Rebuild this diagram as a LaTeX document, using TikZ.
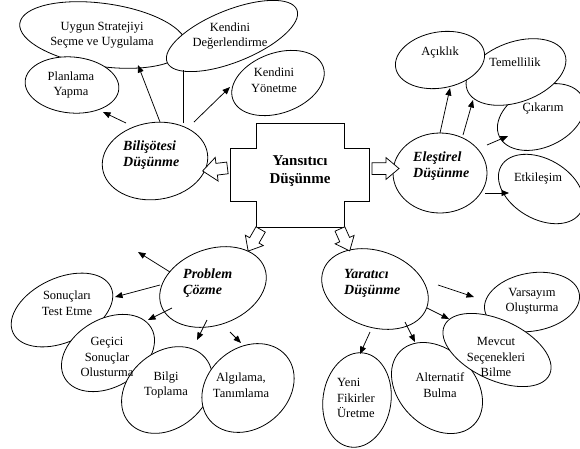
\documentclass[tikz,border=0pt]{standalone}
\usepackage{fontspec}
\setmainfont{Liberation Serif}
\usetikzlibrary{shapes.geometric,shapes.arrows,arrows.meta}
\begin{document}
\begin{tikzpicture}[x=1pt,y=-1pt,
  ell/.style={ellipse, draw, fill=white, line width=0.8pt, inner sep=0pt},
  txt/.style={font=\fontsize{12.5}{15.5}\selectfont, align=center, inner sep=0pt},
  lefttxt/.style={font=\fontsize{12.5}{15.5}\selectfont, align=left, inner sep=0pt, anchor=west},
  head/.style={font=\fontsize{14}{16}\selectfont\bfseries\itshape, align=left, inner sep=0pt, anchor=west},
  title/.style={font=\fontsize{15}{18}\selectfont\bfseries, align=center, inner sep=0pt},
  arr/.style={line width=0.75pt, -{Triangle[length=7.5pt,width=6pt]}},
  plain/.style={line width=0.75pt},
  hollow/.style={single arrow, draw, fill=white, line width=0.75pt, inner sep=0pt,
    single arrow head extend=5pt, single arrow head indent=0pt, single arrow tip angle=80}]
\useasboundingbox (0,0) rectangle (580,448);

% ---- Bilisotesi group
\node[ell, minimum width=168pt, minimum height=63pt, rotate=-8] (uyg) at (103,35) {};
\node[ell, minimum width=140pt, minimum height=52pt, rotate=22] (kd) at (232,36) {};
\node[ell, minimum width=94pt, minimum height=56pt, rotate=-5] (pla) at (72,85) {};
\node[ell, minimum width=96pt, minimum height=60pt, rotate=20] (ky) at (278,83) {};
\node[ell, minimum width=106pt, minimum height=77pt, rotate=8] (bil) at (155,161) {};

% ---- central box
\node[title] (ref) at (300,171) {Yansıtıcı\\Düşünme};
\draw[line width=0.8pt] (256,123) -- (344,123) -- (344,148) -- (369,148) -- (369,201)
  -- (344,201) -- (344,227) -- (256,227) -- (256,201) -- (230,201) -- (230,148)
  -- (256,148) -- cycle;

% ---- Elestirel group
\node[ell, minimum width=92pt, minimum height=60pt, rotate=25] (cik) at (541,117) {};
\node[ell, minimum width=104pt, minimum height=60pt, rotate=20] (tem) at (516,72) {};
\node[ell, minimum width=90pt, minimum height=56pt, rotate=10] (acik) at (440,60) {};
\node[ell, minimum width=92pt, minimum height=60pt, rotate=-30] (etk) at (541,189) {};
\node[ell, minimum width=94pt, minimum height=80pt] (ele) at (440,173) {};

% ---- Problem group
\node[ell, minimum width=108pt, minimum height=64pt, rotate=25] (son) at (62,310) {};
\node[ell, minimum width=100pt, minimum height=68pt, rotate=30] (gec) at (108,353) {};
\node[ell, minimum width=100pt, minimum height=76pt, rotate=40] (bilgi) at (167,390) {};
\node[ell, minimum width=100pt, minimum height=80pt, rotate=40] (alg) at (248,388) {};
\node[ell, minimum width=110pt, minimum height=76pt, rotate=20] (prob) at (213,287) {};

% ---- Yaratici group
\node[ell, minimum width=96pt, minimum height=58pt, rotate=10] (var) at (532,302) {};
\node[ell, minimum width=104pt, minimum height=76pt, rotate=-45] (alt) at (437,388) {};
\node[ell, minimum width=116pt, minimum height=60pt, rotate=-25] (mev) at (497,350) {};
\node[ell, minimum width=68pt, minimum height=95pt, rotate=-8] (yeni) at (357,400) {};
\node[ell, minimum width=110pt, minimum height=76pt, rotate=-20] (yar) at (375,289) {};

% ---- texts
\node[txt] (uygT) at (102,35) {Uygun Stratejiyi\\Seçme ve Uygulama};
\node[txt] (kdT) at (230,36) {Kendini\\Değerlendirme};
\node[txt] (plaT) at (71,85) {Planlama\\Yapma};
\node[txt] (kyT) at (274,80) {Kendini\\Yönetme};
\node[head] (bilT) at (123,155) {Bilişötesi\\Düşünme};
\node[txt] (acikT) at (440,52) {Açıklık};
\node[txt] (temT) at (515,62) {Temellilik};
\node[txt] (cikT) at (543,108) {Çıkarım};
\node[txt] (etkT) at (538,178) {Etkileşim};
\node[head] (eleT) at (413,166.5) {Eleştirel\\Düşünme};
\node[head] (probT) at (183,283) {Problem\\Çözme};
\node[txt] (sonT) at (67,303) {Sonuçları\\Test Etme};
\node[txt] (gecT) at (107,357) {Geçici\\Sonuçlar\\Olusturma};
\node[txt] (bilgiT) at (166,385) {Bilgi\\Toplama};
\node[txt] (algT) at (241,385) {Algılama,\\Tanımlama};
\node[head] (yarT) at (344,283) {Yaratıcı\\Düşünme};
\node[txt] (varT) at (532,301) {Varsayım\\Oluşturma};
\node[txt] (mevT) at (496,357) {Mevcut\\Seçenekleri\\Bilme};
\node[txt] (altT) at (440,385) {Alternatif\\Bulma};
\node[lefttxt] (yeniT) at (337,398) {Yeni\\Fikirler\\Üretme};

% ---- arrow end points
\coordinate (a1s) at (126,123); \coordinate (a1e) at (103,112);
\coordinate (a2s) at (160,122); \coordinate (a2e) at (138,65);
\coordinate (l3s) at (183,123); \coordinate (l3e) at (183,70);
\coordinate (a4s) at (194,122); \coordinate (a4e) at (230,87);
\coordinate (b1s) at (440,133); \coordinate (b1e) at (450,88);
\coordinate (b2s) at (463,135); \coordinate (b2e) at (473,100);
\coordinate (b3s) at (487,145); \coordinate (b3e) at (508,136);
\coordinate (b4s) at (485,193); \coordinate (b4e) at (509,193);
\coordinate (c1s) at (170,272); \coordinate (c1e) at (138,252);
\coordinate (c2s) at (160,285); \coordinate (c2e) at (115,297);
\coordinate (c3s) at (172,308); \coordinate (c3e) at (148,320);
\coordinate (c4s) at (207,320); \coordinate (c4e) at (197,340);
\coordinate (c5s) at (230,332); \coordinate (c5e) at (241,343);
\coordinate (d1s) at (438,285); \coordinate (d1e) at (474,297);
\coordinate (d2s) at (427,308); \coordinate (d2e) at (449,319);
\coordinate (d3s) at (405,322); \coordinate (d3e) at (415,342);
\coordinate (d4s) at (370,332); \coordinate (d4e) at (360,354);

\draw[arr] (a1s) -- (a1e);
\draw[arr] (a2s) -- (a2e);
\draw[plain] (l3s) -- (l3e);
\draw[arr] (a4s) -- (a4e);
\draw[arr] (b1s) -- (b1e);
\draw[arr] (b2s) -- (b2e);
\draw[arr] (b3s) -- (b3e);
\draw[arr] (b4s) -- (b4e);
\draw[arr] (c1s) -- (c1e);
\draw[arr] (c2s) -- (c2e);
\draw[arr] (c3s) -- (c3e);
\draw[arr] (c4s) -- (c4e);
\draw[arr] (c5s) -- (c5e);
\draw[arr] (d1s) -- (d1e);
\draw[arr] (d2s) -- (d2e);
\draw[arr] (d3s) -- (d3e);
\draw[arr] (d4s) -- (d4e);

% ---- hollow arrows from the central box
\node[hollow, minimum height=25pt, rotate=187, single arrow head extend=6pt] (hl) at (218.5,169) {\rule{0pt}{11pt}};
\node[hollow, minimum height=27pt] (hr) at (382,168.5) {\rule{0pt}{11pt}};
\node[hollow, minimum height=25pt, rotate=240] (hbl) at (256,237.5) {\rule{0pt}{10pt}};
\node[hollow, minimum height=24pt, rotate=-66] (hbr) at (343.5,237) {\rule{0pt}{10pt}};
\end{tikzpicture}
\end{document}
